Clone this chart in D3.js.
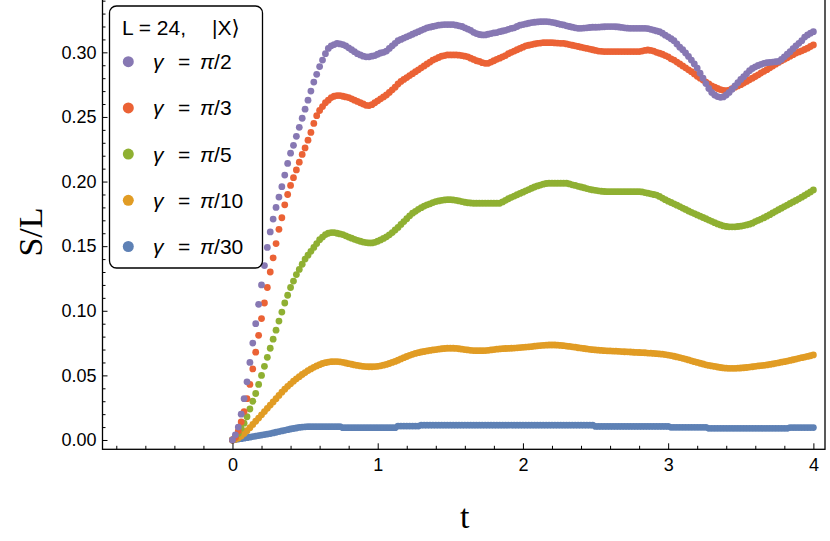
<!DOCTYPE html>
<html>
<head>
<meta charset="utf-8">
<script src="https://cdn.jsdelivr.net/npm/d3@7"></script>
<style>
  body { margin: 0; background: #fff; }
</style>
</head>
<body>
<svg id="chart" width="830" height="541"></svg>
<script>
/////////    Data    /////////

// time step between samples (t = 0 ... 4)
const tStep = 0.02;

// S/L for gamma = pi/2
const gammaPi2 = [
  0, 0.004, 0.010, 0.020, 0.032, 0.045, 0.060, 0.075, 0.090, 0.105,
  0.120, 0.135, 0.149, 0.161, 0.171, 0.180, 0.188, 0.196, 0.205, 0.214,
  0.222, 0.228, 0.235, 0.242, 0.249, 0.256, 0.263, 0.270, 0.277, 0.283,
  0.289, 0.294, 0.299, 0.303, 0.305, 0.306, 0.307, 0.3065, 0.306, 0.305,
  0.3035, 0.302, 0.3005, 0.299, 0.298, 0.297, 0.2965, 0.2965, 0.297, 0.2975,
  0.2985, 0.2995, 0.300, 0.301, 0.303, 0.305, 0.307, 0.309, 0.310, 0.311,
  0.312, 0.313, 0.314, 0.315, 0.316, 0.317, 0.318, 0.319, 0.3195, 0.320,
  0.3205, 0.321, 0.3213, 0.3215, 0.3215, 0.3215, 0.3215, 0.321, 0.3205, 0.320,
  0.319, 0.318, 0.317, 0.3155, 0.3145, 0.3138, 0.3135, 0.3135, 0.314, 0.3145,
  0.315, 0.3153, 0.316, 0.3165, 0.317, 0.3178, 0.3185, 0.319, 0.320, 0.321,
  0.3215, 0.322, 0.3225, 0.323, 0.3233, 0.3235, 0.3237, 0.3238, 0.3238, 0.3236,
  0.3232, 0.3228, 0.3222, 0.3216, 0.3212, 0.3205, 0.320, 0.3195, 0.319, 0.3186,
  0.3186, 0.3188, 0.319, 0.3192, 0.3194, 0.3194, 0.3195, 0.3197, 0.3198, 0.3199,
  0.3199, 0.3199, 0.3198, 0.3196, 0.3193, 0.319, 0.3187, 0.3186, 0.3186, 0.3186,
  0.3186, 0.3186, 0.3186, 0.3184, 0.3178, 0.3172, 0.3166, 0.316, 0.3148, 0.3133,
  0.312, 0.3105, 0.309, 0.3065, 0.304, 0.302, 0.2995, 0.2968, 0.294, 0.291,
  0.2878, 0.2838, 0.280, 0.2758, 0.272, 0.269, 0.267, 0.2658, 0.2652, 0.2655,
  0.267, 0.269, 0.2715, 0.274, 0.2765, 0.279, 0.2812, 0.2835, 0.2858, 0.2875,
  0.2888, 0.2898, 0.2907, 0.2915, 0.292, 0.2923, 0.2925, 0.2927, 0.293, 0.2945,
  0.2965, 0.2985, 0.3005, 0.3028, 0.305, 0.307, 0.309, 0.3118, 0.3135, 0.3148,
  0.316
];

// S/L for gamma = pi/3
const gammaPi3 = [
  0, 0.002, 0.007, 0.014, 0.022, 0.032, 0.043, 0.055, 0.068, 0.081,
  0.094, 0.106, 0.118, 0.130, 0.141, 0.152, 0.163, 0.172, 0.182, 0.190,
  0.197, 0.203, 0.209, 0.215, 0.221, 0.226, 0.232, 0.238, 0.245, 0.251,
  0.255, 0.258, 0.261, 0.263, 0.265, 0.266, 0.2665, 0.2665, 0.266, 0.2655,
  0.265, 0.264, 0.263, 0.262, 0.261, 0.260, 0.259, 0.2588, 0.2595, 0.261,
  0.2625, 0.264, 0.2655, 0.267, 0.269, 0.271, 0.273, 0.2755, 0.2775, 0.279,
  0.2805, 0.282, 0.2835, 0.285, 0.2865, 0.288, 0.2895, 0.291, 0.2925, 0.294,
  0.295, 0.296, 0.297, 0.2975, 0.298, 0.298, 0.298, 0.298, 0.2978, 0.2975,
  0.297, 0.2965, 0.2955, 0.2945, 0.2935, 0.293, 0.292, 0.2915, 0.2915, 0.2925,
  0.2935, 0.2946, 0.2955, 0.2965, 0.2975, 0.299, 0.300, 0.301, 0.302, 0.303,
  0.304, 0.305, 0.3055, 0.306, 0.3065, 0.307, 0.3072, 0.3075, 0.3075, 0.3075,
  0.3075, 0.3073, 0.3072, 0.307, 0.307, 0.3065, 0.306, 0.3055, 0.305, 0.3045,
  0.304, 0.3035, 0.303, 0.3025, 0.302, 0.3015, 0.301, 0.3008, 0.3006, 0.3006,
  0.3006, 0.3006, 0.3006, 0.3006, 0.3006, 0.3006, 0.3006, 0.3006, 0.3006, 0.3006,
  0.3006, 0.301, 0.3015, 0.3018, 0.3015, 0.301, 0.300, 0.2993, 0.2985, 0.2975,
  0.2965, 0.295, 0.294, 0.2925, 0.291, 0.2895, 0.288, 0.2865, 0.285, 0.2833,
  0.2815, 0.280, 0.2785, 0.277, 0.2755, 0.274, 0.273, 0.272, 0.2712, 0.2706,
  0.2704, 0.2708, 0.2718, 0.273, 0.274, 0.275, 0.2762, 0.2775, 0.2787, 0.280,
  0.2813, 0.2826, 0.284, 0.2853, 0.2866, 0.288, 0.2894, 0.2908, 0.2922, 0.2935,
  0.2946, 0.2958, 0.297, 0.2982, 0.2994, 0.3003, 0.3012, 0.3022, 0.3032, 0.3045,
  0.3057
];

// S/L for gamma = pi/5
const gammaPi5 = [
  0, 0.002, 0.005, 0.009, 0.013, 0.018, 0.024, 0.030, 0.036, 0.043,
  0.050, 0.057, 0.064, 0.071, 0.078, 0.085, 0.092, 0.099, 0.106, 0.112,
  0.118, 0.123, 0.128, 0.132, 0.136, 0.140, 0.143, 0.146, 0.149, 0.152,
  0.155, 0.157, 0.159, 0.160, 0.1605, 0.1605, 0.160, 0.1595, 0.159, 0.158,
  0.157, 0.1562, 0.1553, 0.1545, 0.1538, 0.1532, 0.1528, 0.1525, 0.1525, 0.153,
  0.1538, 0.1548, 0.156, 0.1572, 0.1588, 0.1605, 0.1625, 0.1645, 0.1668, 0.169,
  0.1712, 0.1735, 0.1755, 0.177, 0.1785, 0.1798, 0.181, 0.182, 0.1828, 0.1837,
  0.1845, 0.185, 0.1855, 0.1858, 0.186, 0.186, 0.1858, 0.1855, 0.185, 0.1845,
  0.184, 0.1836, 0.1834, 0.1832, 0.1832, 0.1832, 0.1832, 0.1832, 0.1832, 0.1832,
  0.1832, 0.1832, 0.1832, 0.1842, 0.1855, 0.1867, 0.1878, 0.1888, 0.1898, 0.1908,
  0.1918, 0.1928, 0.1938, 0.1948, 0.1958, 0.1966, 0.1973, 0.198, 0.1985, 0.1987,
  0.1987, 0.1987, 0.1987, 0.1987, 0.1987, 0.1987, 0.1982, 0.1975, 0.197, 0.1963,
  0.1958, 0.1952, 0.1946, 0.194, 0.1935, 0.1932, 0.1928, 0.1925, 0.1923, 0.1922,
  0.1922, 0.1922, 0.1922, 0.1922, 0.1922, 0.1922, 0.1922, 0.1922, 0.1922, 0.1922,
  0.1922, 0.192, 0.1915, 0.191, 0.1905, 0.190, 0.1895, 0.1885, 0.1872, 0.186,
  0.1848, 0.1838, 0.1828, 0.1817, 0.1806, 0.1795, 0.1784, 0.1772, 0.1762, 0.1752,
  0.1742, 0.1732, 0.1722, 0.1712, 0.1702, 0.1692, 0.1682, 0.1672, 0.1664, 0.1657,
  0.1652, 0.165, 0.165, 0.165, 0.1652, 0.1655, 0.1659, 0.1664, 0.167, 0.1678,
  0.169, 0.170, 0.171, 0.172, 0.1732, 0.1744, 0.1757, 0.177, 0.1782, 0.1794,
  0.1806, 0.1818, 0.183, 0.1842, 0.1854, 0.1866, 0.1879, 0.1892, 0.1906, 0.192,
  0.1935
];

// S/L for gamma = pi/10
const gammaPi10 = [
  0, 0.0005, 0.0015, 0.003, 0.005, 0.0072, 0.0095, 0.012, 0.0145, 0.017,
  0.0195, 0.022, 0.0245, 0.027, 0.0295, 0.032, 0.0345, 0.037, 0.0393, 0.0415,
  0.0435, 0.0455, 0.0473, 0.049, 0.0507, 0.0522, 0.0537, 0.055, 0.0562, 0.0573,
  0.0583, 0.0592, 0.0598, 0.0603, 0.0606, 0.0607, 0.0607, 0.0605, 0.0601, 0.0596,
  0.0591, 0.0586, 0.0581, 0.0577, 0.0573, 0.057, 0.0568, 0.0567, 0.0567, 0.0568,
  0.057, 0.0574, 0.0579, 0.0585, 0.0592, 0.060, 0.0608, 0.0617, 0.0627, 0.0637,
  0.0646, 0.0655, 0.0663, 0.067, 0.0676, 0.0681, 0.0685, 0.0689, 0.0693, 0.0697,
  0.070, 0.0703, 0.0706, 0.0708, 0.071, 0.071, 0.071, 0.0709, 0.0706, 0.0703,
  0.070, 0.0697, 0.0694, 0.0692, 0.0691, 0.0691, 0.0691, 0.0692, 0.0694, 0.0697,
  0.070, 0.0703, 0.0705, 0.0707, 0.0708, 0.0709, 0.071, 0.0711, 0.0713, 0.0715,
  0.0717, 0.0719, 0.0721, 0.0723, 0.0726, 0.0729, 0.0731, 0.0733, 0.0734, 0.0735,
  0.0735, 0.0735, 0.0734, 0.0732, 0.073, 0.0727, 0.0724, 0.0721, 0.0718, 0.0714,
  0.0711, 0.0708, 0.0705, 0.0702, 0.0699, 0.0697, 0.0695, 0.0693, 0.0691, 0.069,
  0.0689, 0.0688, 0.0687, 0.0686, 0.0684, 0.0683, 0.0682, 0.0681, 0.0679, 0.0678,
  0.0677, 0.0676, 0.0675, 0.0673, 0.0672, 0.067, 0.0668, 0.0666, 0.0664, 0.0661,
  0.0657, 0.0653, 0.0648, 0.0643, 0.0638, 0.0632, 0.0626, 0.062, 0.0613, 0.0606,
  0.060, 0.0594, 0.0588, 0.0582, 0.0577, 0.0573, 0.0569, 0.0565, 0.0561, 0.0558,
  0.0556, 0.0555, 0.0555, 0.0555, 0.0556, 0.0557, 0.0559, 0.0561, 0.0564, 0.0567,
  0.057, 0.0573, 0.0575, 0.0578, 0.0581, 0.0585, 0.0589, 0.0593, 0.0597, 0.0602,
  0.0606, 0.0611, 0.0616, 0.0621, 0.0626, 0.0632, 0.0637, 0.0642, 0.0647, 0.0652,
  0.0658
];

// S/L for gamma = pi/30
const gammaPi30 = [
  0, 0.0003, 0.0007, 0.001, 0.0014, 0.0018, 0.0022, 0.0026, 0.003, 0.0034,
  0.0038, 0.0042, 0.0046, 0.005, 0.0055, 0.006, 0.0065, 0.007, 0.0075, 0.008,
  0.0085, 0.0089, 0.0093, 0.0097, 0.010, 0.0102, 0.0103, 0.0103, 0.0103, 0.0103,
  0.0103, 0.0103, 0.0103, 0.0103, 0.0103, 0.0103, 0.0103, 0.0103, 0.0095, 0.0095,
  0.0095, 0.0095, 0.0095, 0.0095, 0.0095, 0.0095, 0.0095, 0.0095, 0.0095, 0.0095,
  0.0095, 0.0095, 0.0095, 0.0095, 0.0095, 0.0095, 0.0095, 0.0108, 0.0108, 0.0108,
  0.0108, 0.0108, 0.0108, 0.0108, 0.0108, 0.0115, 0.0115, 0.0115, 0.0115, 0.0115,
  0.0115, 0.0115, 0.0115, 0.0115, 0.0115, 0.0115, 0.0115, 0.0115, 0.0115, 0.0115,
  0.0115, 0.0115, 0.0115, 0.0115, 0.0115, 0.0115, 0.0115, 0.0115, 0.0115, 0.0115,
  0.0115, 0.0115, 0.0115, 0.0115, 0.0115, 0.0115, 0.0115, 0.0115, 0.0115, 0.0115,
  0.0115, 0.0115, 0.0115, 0.0115, 0.0115, 0.0115, 0.0115, 0.0115, 0.0115, 0.0115,
  0.0115, 0.0115, 0.0115, 0.0115, 0.0115, 0.0115, 0.0115, 0.0115, 0.0115, 0.0115,
  0.0115, 0.0115, 0.0115, 0.0115, 0.0115, 0.0105, 0.0105, 0.0105, 0.0105, 0.0105,
  0.0105, 0.0105, 0.0105, 0.0105, 0.0105, 0.0105, 0.0105, 0.0105, 0.0105, 0.0105,
  0.0105, 0.0105, 0.0105, 0.0105, 0.0105, 0.0105, 0.0105, 0.0105, 0.0105, 0.0105,
  0.0105, 0.0098, 0.0098, 0.0098, 0.0098, 0.0098, 0.0098, 0.0098, 0.0098, 0.0098,
  0.0098, 0.0098, 0.0098, 0.0098, 0.009, 0.009, 0.009, 0.009, 0.009, 0.009,
  0.009, 0.009, 0.009, 0.009, 0.009, 0.009, 0.009, 0.009, 0.009, 0.009,
  0.009, 0.009, 0.009, 0.009, 0.009, 0.009, 0.009, 0.009, 0.009, 0.009,
  0.009, 0.009, 0.0096, 0.0096, 0.0096, 0.0096, 0.0096, 0.0096, 0.0096, 0.0096,
  0.0096
];

// Legend order (top to bottom) and colours
const legendTitle = "L = 24, ";
const legendLabels = ["π/2", "π/3", "π/5", "π/10", "π/30"];
const legendColors = ["#8778b3", "#eb6235", "#8fb032", "#e19c24", "#5e81b5"];
const legendValues = [gammaPi2, gammaPi3, gammaPi5, gammaPi10, gammaPi30];

// Tick values
const xMajorTicks = [0, 1, 2, 3, 4];
const xMinorTicks = [-0.8, -0.6, -0.4, -0.2, 0.2, 0.4, 0.6, 0.8, 1.2, 1.4, 1.6, 1.8,
  2.2, 2.4, 2.6, 2.8, 3.2, 3.4, 3.6, 3.8];
const yMajorTicks = [0, 0.05, 0.10, 0.15, 0.20, 0.25, 0.30];
const yMinorTicks = [0.01, 0.02, 0.03, 0.04, 0.06, 0.07, 0.08, 0.09, 0.11, 0.12, 0.13, 0.14,
  0.16, 0.17, 0.18, 0.19, 0.21, 0.22, 0.23, 0.24, 0.26, 0.27, 0.28, 0.29, 0.31, 0.32, 0.33, 0.34];

/////////    Drawing    /////////

const svg = d3.select("#chart");
const sansFont = "'Liberation Sans', Arial, sans-serif";
const serifFont = "'Liberation Serif', 'DejaVu Serif', serif";

// plot range (Mathematica pads a little around the data)
const x = d3.scaleLinear().domain([-0.895, 4.08]).range([102.5, 825]);
const y = d3.scaleLinear().domain([-0.0072, 0.3405]).range([449.3, 0]);

// series: drawn blue first, purple last (on top)
const series = legendValues.map((vals, i) => ({
  color: legendColors[i],
  points: vals.map((v, k) => ({ t: k * tStep, v: v })),
})).reverse();

const plot = svg.append("g").attr("class", "plot");

series.forEach((s) => {
  plot.append("g")
    .selectAll("circle")
    .data(s.points)
    .enter()
    .append("circle")
    .attr("cx", (d) => x(d.t))
    .attr("cy", (d) => y(d.v))
    .attr("r", 3.4)
    .attr("fill", s.color);
});

// Axes (ticks point inwards)
function styleAxis(g) {
  g.select(".domain").remove();
  g.selectAll("line").attr("stroke", "#000").attr("stroke-width", 1);
  g.selectAll("text")
    .attr("fill", "#000")
    .style("font-family", sansFont)
    .style("font-size", "18px");
}

svg.append("g")
  .attr("transform", "translate(0,449.3)")
  .call(d3.axisBottom(x).tickValues(xMinorTicks).tickSizeInner(-3.5).tickSizeOuter(0).tickFormat(""))
  .call(styleAxis);

svg.append("g")
  .attr("transform", "translate(0,449.3)")
  .call(d3.axisBottom(x).tickValues(xMajorTicks).tickSizeInner(-6).tickSizeOuter(0)
    .tickPadding(9).tickFormat(d3.format("d")))
  .call(styleAxis);

svg.append("g")
  .attr("transform", "translate(102.5,0)")
  .call(d3.axisLeft(y).tickValues(yMinorTicks).tickSizeInner(-3).tickSizeOuter(0).tickFormat(""))
  .call(styleAxis);

svg.append("g")
  .attr("transform", "translate(102.5,0)")
  .call(d3.axisLeft(y).tickValues(yMajorTicks).tickSizeInner(-5).tickSizeOuter(0)
    .tickPadding(6).tickFormat(d3.format(".2f")))
  .call(styleAxis);

// Frame
svg.append("rect")
  .attr("x", x.range()[0])
  .attr("y", -1)
  .attr("width", x.range()[1] - x.range()[0])
  .attr("height", y.range()[0] + 1)
  .attr("fill", "none")
  .attr("stroke", "#000")
  .attr("stroke-width", 1.3);

// Axis titles
svg.append("text")
  .attr("transform", "translate(42,232) rotate(-90)")
  .attr("text-anchor", "middle")
  .style("font-family", serifFont)
  .style("font-size", "34px")
  .text("S/L");

svg.append("text")
  .attr("x", x(1.6))
  .attr("y", 528)
  .attr("text-anchor", "middle")
  .style("font-family", serifFont)
  .style("font-size", "34px")
  .text("t");

// Legend
const legend = svg.append("g").attr("class", "legend");

legend.append("rect")
  .attr("x", 109.5)
  .attr("y", 6)
  .attr("width", 153)
  .attr("height", 262)
  .attr("rx", 7)
  .attr("fill", "#fff")
  .attr("stroke", "#000")
  .attr("stroke-width", 1.3);

const title = legend.append("text")
  .attr("x", 122)
  .attr("y", 35)
  .style("font-family", sansFont)
  .style("font-size", "21px")
  .attr("fill", "#000");
title.append("tspan").attr("xml:space", "preserve").text(legendTitle);
title.append("tspan").attr("x", 212).text("|X");
title.append("tspan").style("font-family", "'DejaVu Sans', sans-serif").text("\u27e9");

const items = legend.selectAll(".item")
  .data(legendLabels)
  .enter()
  .append("g")
  .attr("class", "item")
  .attr("transform", (d, i) => "translate(0," + (61.7 + i * 46.2) + ")");

items.append("circle")
  .attr("cx", 128.3)
  .attr("cy", 0)
  .attr("r", 5.5)
  .attr("fill", (d, i) => legendColors[i]);

const itemText = items.append("text")
  .attr("y", 7.5)
  .style("font-family", sansFont)
  .style("font-size", "21px")
  .attr("fill", "#000");

itemText.append("tspan").attr("x", 153).style("font-style", "italic").text("γ");
itemText.append("tspan").attr("x", 178).text("=");
itemText.append("tspan").attr("x", 200).style("font-style", "italic").text((d) => d.slice(0, 1));
itemText.append("tspan").text((d) => d.slice(1));
</script>
</body>
</html>
